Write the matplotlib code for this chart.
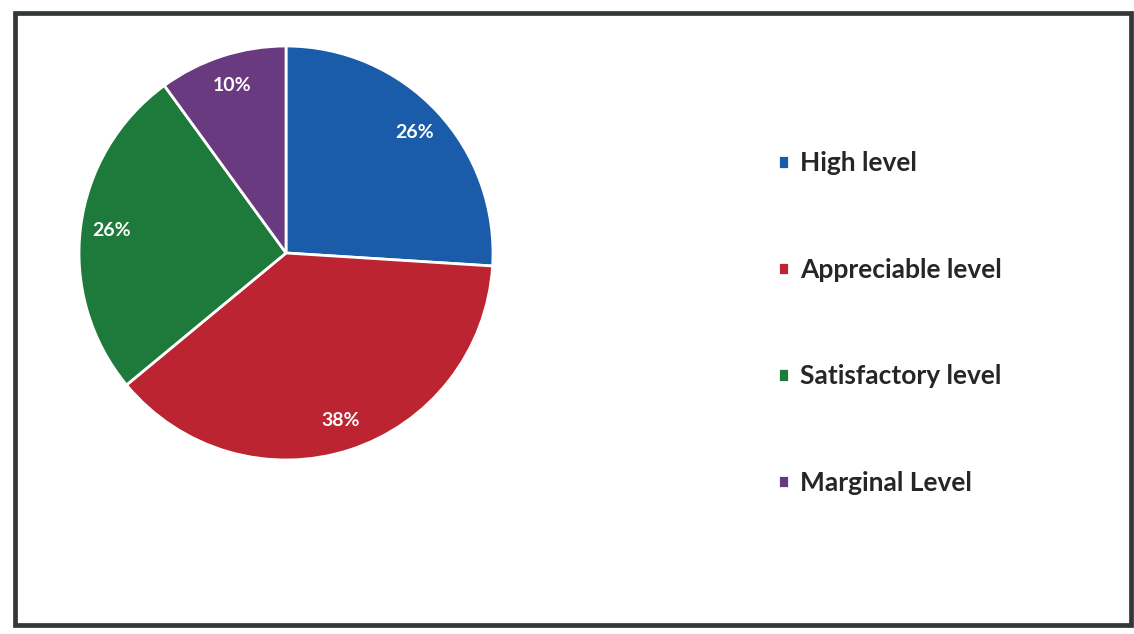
import matplotlib.pyplot as plt
from matplotlib.patches import Rectangle

labels = ["High level", "Appreciable level", "Satisfactory level", "Marginal Level"]
shares = [26, 38, 26, 10]
colors = ["#1A5BAA", "#BB2430", "#1E7A3A", "#6A3A80"]

plt.rcParams['font.family'] = ['Lato', 'DejaVu Sans']

W, H = 1134, 634
fig = plt.figure(figsize=(W / 100, H / 100), dpi=100)

# outer frame of the chart
fig.patches.append(Rectangle((15 / W, 9 / H), 1116 / W, 612 / H, transform=fig.transFigure,
                             fill=False, edgecolor="#323737", linewidth=3.4))

cx, cy, r = 286, 253, 207
ax = fig.add_axes([(cx - r) / W, (H - cy - r) / H, 2 * r / W, 2 * r / H])
wedges, texts, autotexts = ax.pie(shares, colors=colors, startangle=90, counterclock=False,
                                  autopct='%d%%', pctdistance=0.85,
                                  wedgeprops=dict(edgecolor="white", linewidth=2))
for t in autotexts:
    t.set_color("white")
    t.set_fontsize(14)
    t.set_fontweight("bold")
ax.set_xlim(-1, 1)
ax.set_ylim(-1, 1)
ax.set_aspect("equal")
ax.axis("off")

leg = fig.legend(wedges, labels, loc="upper left", bbox_to_anchor=(765 / W, 1 - 138 / H),
                 frameon=False, prop=dict(size=19, weight="bold"),
                 handlelength=0.42, handleheight=0.42, handletextpad=0.4,
                 labelspacing=3.13, borderpad=0)
for t in leg.get_texts():
    t.set_color("#262626")

fig.savefig("out.png", dpi=100)
